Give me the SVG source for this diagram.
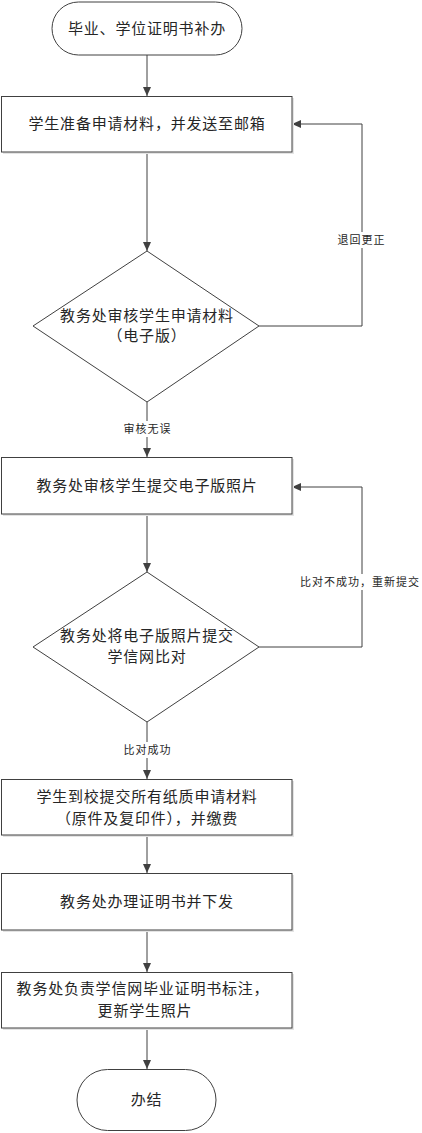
<svg xmlns="http://www.w3.org/2000/svg" width="422" height="1133" viewBox="0 0 422 1133">
<style>
.shape{fill:#fff;stroke:#404040;stroke-width:1}
.shadow{fill:#e4e4e4;stroke:none}
.t{font-family:"Liberation Serif","Noto Sans CJK SC",serif;font-size:15px;letter-spacing:0.8px;fill:#262626;text-anchor:middle;dominant-baseline:central}
.lbl{font-family:"Liberation Serif","Noto Sans CJK SC",serif;font-size:11px;letter-spacing:1px;fill:#262626;text-anchor:middle;dominant-baseline:central}
.c{fill:none;stroke:#404040;stroke-width:1}
</style>
<defs>
<marker id="arr" markerWidth="10" markerHeight="10" refX="9" refY="4" orient="auto" markerUnits="userSpaceOnUse">
<path d="M0,0 L9,4 L0,8 Z" fill="#404040"/>
</marker>
</defs>
<rect width="422" height="1133" fill="#fff"/>
<g id="connectors">
<line class="c" x1="147" y1="55" x2="147" y2="96" marker-end="url(#arr)"/>
<line class="c" x1="147" y1="152" x2="147" y2="251" marker-end="url(#arr)"/>
<polyline class="c" points="259,326 362,326 362,124 292,124" marker-end="url(#arr)"/>
<line class="c" x1="147" y1="402" x2="147" y2="457" marker-end="url(#arr)"/>
<line class="c" x1="147" y1="514" x2="147" y2="572" marker-end="url(#arr)"/>
<polyline class="c" points="259,647 362,647 362,487 292,487" marker-end="url(#arr)"/>
<line class="c" x1="147" y1="722" x2="147" y2="779" marker-end="url(#arr)"/>
<line class="c" x1="147" y1="835" x2="147" y2="873" marker-end="url(#arr)"/>
<line class="c" x1="147" y1="930" x2="147" y2="972" marker-end="url(#arr)"/>
<line class="c" x1="147" y1="1028" x2="147" y2="1069" marker-end="url(#arr)"/>
<rect x="334" y="232" width="56" height="16" fill="#fff"/>
<text class="lbl" x="361.5" y="240">退回更正</text>
<rect x="120" y="421" width="54" height="16" fill="#fff"/>
<text class="lbl" x="147.5" y="429">审核无误</text>
<rect x="296" y="574" width="126" height="16" fill="#fff"/>
<text class="lbl" x="360" y="582">比对不成功，重新提交</text>
<rect x="120" y="742" width="54" height="16" fill="#fff"/>
<text class="lbl" x="147.5" y="750">比对成功</text>
</g>
<g id="start">
<rect class="shape" x="52" y="2" width="190" height="53" rx="26.5"/>
<text class="t" x="147" y="29">毕业、学位证明书补办</text>
</g>
<g id="step1">
<rect class="shadow" x="3" y="98" width="291" height="56"/>
<rect class="shape" x="1.5" y="96.5" width="290.5" height="55.5"/>
<text class="t" x="147" y="124">学生准备申请材料，并发送至邮箱</text>
</g>
<g id="decision1">
<polygon class="shape" points="147,251 259,326 147,402 33,326"/>
<text class="t" x="147" y="316">教务处审核学生申请材料</text>
<text class="t" x="147" y="336">（电子版）</text>
</g>
<g id="step2">
<rect class="shadow" x="3" y="459" width="291" height="57"/>
<rect class="shape" x="1.5" y="457.5" width="290.5" height="56.5"/>
<text class="t" x="147" y="486">教务处审核学生提交电子版照片</text>
</g>
<g id="decision2">
<polygon class="shape" points="147,572 259,647 147,722 33,647"/>
<text class="t" x="147" y="636">教务处将电子版照片提交</text>
<text class="t" x="147" y="657">学信网比对</text>
</g>
<g id="step3">
<rect class="shadow" x="3" y="781" width="291" height="56"/>
<rect class="shape" x="1.5" y="779.5" width="290.5" height="55.5"/>
<text class="t" x="147" y="797">学生到校提交所有纸质申请材料</text>
<text class="t" x="147" y="819">（原件及复印件），并缴费</text>
</g>
<g id="step4">
<rect class="shadow" x="3" y="875" width="291" height="57"/>
<rect class="shape" x="1.5" y="873.5" width="290.5" height="56.5"/>
<text class="t" x="147" y="902">教务处办理证明书并下发</text>
</g>
<g id="step5">
<rect class="shadow" x="3" y="974" width="291" height="56"/>
<rect class="shape" x="1.5" y="972.5" width="290.5" height="55.5"/>
<text class="t" x="143" y="989">教务处负责学信网毕业证明书标注，</text>
<text class="t" x="145" y="1011">更新学生照片</text>
</g>
<g id="end">
<rect class="shape" x="77" y="1069.5" width="139" height="61" rx="30.5"/>
<text class="t" x="146.5" y="1100">办结</text>
</g>
</svg>
